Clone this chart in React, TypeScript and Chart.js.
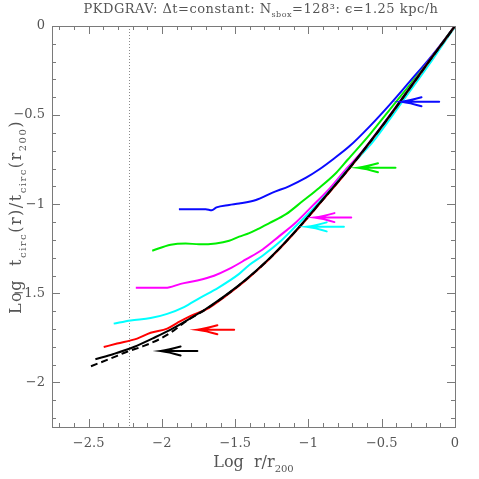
import React, { useEffect, useRef } from 'react';
import { Chart, registerables } from 'chart.js';

Chart.register(...registerables);

// ---------- axis ticks ----------
const xTickValues = [-2.5, -2, -1.5, -1, -0.5, 0];
const xTickLabels = ['−2.5', '−2', '−1.5', '−1', '−0.5', '0'];
const yTickValues = [-2, -1.5, -1, -0.5, 0];
const yTickLabels = ['−2', '−1.5', '−1', '−0.5', '0'];
const xRange = [-2.75, 0];
const yRange = [-2.25, 0];

// ---------- series (log r/r200, log tcirc ratio) ----------
const blueLogR = [-1.884, -1.701, -1.66, -1.628, -1.541, -1.473, -1.358, -1.245, -1.13, -1.016, -0.925, -0.834, -0.719, -0.582, -0.445, -0.308, -0.171, -0.057, 0.0];
const blueLogT = [-1.028, -1.028, -1.034, -1.018, -1.004, -0.996, -0.976, -0.935, -0.898, -0.851, -0.804, -0.749, -0.674, -0.563, -0.441, -0.311, -0.18, -0.062, 0.0];

const greenLogR = [-2.066, -1.94, -1.838, -1.747, -1.632, -1.541, -1.473, -1.404, -1.347, -1.267, -1.153, -1.039, -0.925, -0.81, -0.731, -0.582, -0.445, -0.308, -0.171, -0.034, 0.0];
const greenLogT = [-1.261, -1.227, -1.22, -1.225, -1.22, -1.205, -1.182, -1.162, -1.14, -1.106, -1.056, -0.982, -0.907, -0.823, -0.749, -0.609, -0.469, -0.33, -0.19, -0.036, 0.0];

const magentaLogR = [-2.178, -2.077, -1.975, -1.872, -1.758, -1.644, -1.541, -1.427, -1.313, -1.199, -1.084, -0.971, -0.856, -0.742, -0.651, -0.582, -0.445, -0.308, -0.171, -0.023, 0.0];
const magentaLogT = [-1.469, -1.469, -1.469, -1.447, -1.428, -1.401, -1.363, -1.31, -1.254, -1.179, -1.101, -1.008, -0.913, -0.802, -0.721, -0.65, -0.5, -0.344, -0.188, -0.025, 0.0];

const cyanLogR = [-2.329, -2.214, -2.077, -1.964, -1.849, -1.74, -1.616, -1.473, -1.404, -1.313, -1.199, -1.084, -0.971, -0.856, -0.742, -0.651, -0.562, -0.425, -0.288, -0.151, -0.014, 0.0];
const cyanLogT = [-1.67, -1.652, -1.639, -1.615, -1.577, -1.525, -1.469, -1.391, -1.341, -1.289, -1.214, -1.121, -1.028, -0.926, -0.814, -0.732, -0.652, -0.5, -0.343, -0.186, -0.022, -0.007];

const redLogR = [-2.397, -2.306, -2.169, -2.077, -1.964, -1.895, -1.803, -1.701, -1.564, -1.427, -1.29, -1.176, -1.062, -0.947, -0.81, -0.719, -0.582, -0.445, -0.308, -0.171, -0.023, 0.0];
const redLogT = [-1.801, -1.782, -1.754, -1.721, -1.698, -1.666, -1.626, -1.592, -1.514, -1.426, -1.326, -1.232, -1.13, -1.02, -0.888, -0.799, -0.655, -0.506, -0.35, -0.193, -0.027, 0.0];

const blackLogR = [-2.454, -2.329, -2.192, -2.043, -1.94, -1.849, -1.701, -1.564, -1.427, -1.29, -1.176, -1.062, -0.947, -0.81, -0.719, -0.582, -0.445, -0.308, -0.171, -0.023, 0.0];
const blackLogT = [-1.87, -1.84, -1.801, -1.745, -1.703, -1.661, -1.588, -1.51, -1.422, -1.322, -1.228, -1.126, -1.016, -0.884, -0.795, -0.652, -0.503, -0.347, -0.19, -0.025, 0.0];

const dashedLogR = [-2.484, -2.351, -2.238, -2.123, -2.009, -1.918, -1.849, -1.701, -1.564, -1.427, -1.29, -1.176, -1.062, -0.947, -0.81, -0.719, -0.582, -0.445, -0.308, -0.171, -0.023, 0.0];
const dashedLogT = [-1.909, -1.866, -1.828, -1.795, -1.754, -1.708, -1.664, -1.59, -1.512, -1.424, -1.324, -1.23, -1.128, -1.018, -0.886, -0.797, -0.654, -0.505, -0.349, -0.192, -0.027, 0.0];

// ---------- arrows (blue, green, magenta, cyan, red, black) ----------
const arrowTipLogR = [-0.365, -0.662, -0.959, -1.012, -1.758, -2.009];
const arrowTailLogR = [-0.108, -0.406, -0.708, -0.758, -1.507, -1.758];
const arrowLogT = [-0.425, -0.795, -1.075, -1.127, -1.704, -1.824];

// softening length marker
const softeningLogR = -2.226;

// ---------- styles ----------
const COLORS = {
  blue: '#0a0aff',
  green: '#00ee00',
  magenta: '#ff00ff',
  cyan: '#00ffff',
  red: '#ff0000',
  black: '#000000',
};
const arrowColors = [COLORS.blue, COLORS.green, COLORS.magenta, COLORS.cyan, COLORS.red, COLORS.black];
const FRAME = '#7a7a7a';
const TEXT = '#555555';
const FAMILY = '"DejaVu Serif", serif';

const pts = (xs: number[], ys: number[]) => xs.map((v, i) => ({ x: v, y: ys[i] }));

type Part = [string, 'n' | 'sub'];

function drawRich(ctx: CanvasRenderingContext2D, parts: Part[], cx: number, baseY: number, size: number, spacing = 0) {
  const subSize = Math.round(size * 0.62);
  const fontN = `${size}px ${FAMILY}`;
  const fontS = `${subSize}px ${FAMILY}`;
  (ctx as any).letterSpacing = `${spacing}px`;
  const widths = parts.map(([t, k]) => {
    ctx.font = k === 'sub' ? fontS : fontN;
    return ctx.measureText(t).width;
  });
  const total = widths.reduce((a, b) => a + b, 0);
  let xPos = cx - total / 2;
  ctx.textAlign = 'left';
  ctx.textBaseline = 'alphabetic';
  parts.forEach(([t, k], i) => {
    ctx.font = k === 'sub' ? fontS : fontN;
    ctx.fillText(t, xPos, baseY + (k === 'sub' ? size * 0.3 : 0));
    xPos += widths[i];
  });
  (ctx as any).letterSpacing = '0px';
}

const decorPlugin = {
  id: 'decor',
  beforeDatasetsDraw(chart: any) {
    const { ctx, chartArea, scales } = chart;
    const px = Math.round(scales.x.getPixelForValue(softeningLogR)) + 0.5;
    ctx.save();
    ctx.strokeStyle = '#8a8a8a';
    ctx.lineWidth = 1;
    ctx.setLineDash([1, 2]);
    ctx.beginPath();
    ctx.moveTo(px, chartArea.top);
    ctx.lineTo(px, chartArea.bottom);
    ctx.stroke();
    ctx.restore();
  },
  afterDatasetsDraw(chart: any) {
    const { ctx, chartArea, scales } = chart;
    const { left, right, top, bottom } = chartArea;
    const xs = scales.x;
    const ys = scales.y;

    // arrows
    ctx.save();
    ctx.lineWidth = 2;
    ctx.lineCap = 'round';
    arrowTipLogR.forEach((tip, i) => {
      const tx = xs.getPixelForValue(tip);
      const ex = xs.getPixelForValue(arrowTailLogR[i]);
      const yy = ys.getPixelForValue(arrowLogT[i]);
      ctx.strokeStyle = arrowColors[i];
      ctx.beginPath();
      ctx.moveTo(ex, yy);
      ctx.lineTo(tx, yy);
      ctx.moveTo(tx + 20, yy - 4.5);
      ctx.quadraticCurveTo(tx + 8, yy - 1, tx, yy);
      ctx.quadraticCurveTo(tx + 8, yy + 1, tx + 20, yy + 4.5);
      ctx.stroke();
    });
    ctx.restore();

    // frame
    ctx.save();
    ctx.strokeStyle = FRAME;
    ctx.lineWidth = 1;
    ctx.strokeRect(Math.round(left) + 0.5, Math.round(top) + 0.5, Math.round(right - left), Math.round(bottom - top));

    // inward ticks, minor every 0.1, major every 0.5
    ctx.beginPath();
    const kx0 = Math.ceil(xs.min / 0.1 - 1e-6);
    const kx1 = Math.floor(xs.max / 0.1 + 1e-6);
    for (let k = kx0; k <= kx1; k++) {
      const len = k % 5 === 0 ? 8 : 4;
      const p = Math.round(xs.getPixelForValue(k * 0.1)) + 0.5;
      ctx.moveTo(p, bottom);
      ctx.lineTo(p, bottom - len);
      ctx.moveTo(p, top);
      ctx.lineTo(p, top + len);
    }
    const ky0 = Math.ceil(ys.min / 0.1 - 1e-6);
    const ky1 = Math.floor(ys.max / 0.1 + 1e-6);
    for (let k = ky0; k <= ky1; k++) {
      const len = k % 5 === 0 ? 8 : 4;
      const p = Math.round(ys.getPixelForValue(k * 0.1)) + 0.5;
      ctx.moveTo(left, p);
      ctx.lineTo(left + len, p);
      ctx.moveTo(right, p);
      ctx.lineTo(right - len, p);
    }
    ctx.stroke();
    ctx.restore();

    // titles
    ctx.save();
    ctx.fillStyle = TEXT;
    drawRich(ctx, [
      ['PKDGRAV: Δt=constant: N', 'n'],
      ['sbox', 'sub'],
      ['=128³: ϵ=1.25 kpc/h', 'n'],
    ], 261, 13, 13, 0.5);
    drawRich(ctx, [
      ['Log  r/r', 'n'],
      ['200', 'sub'],
    ], (left + right) / 2, 467, 16);
    ctx.translate(21, 217);
    ctx.rotate(-Math.PI / 2);
    drawRich(ctx, [
      ['Log  t', 'n'],
      ['circ', 'sub'],
      ['(r)/t', 'n'],
      ['circ', 'sub'],
      ['(r', 'n'],
      ['200', 'sub'],
      [')', 'n'],
    ], 0, 0, 16, 1.5);
    ctx.restore();
  },
};

export default function App() {
  const canvasRef = useRef<HTMLCanvasElement | null>(null);

  useEffect(() => {
    document.body.style.margin = '0';
    const canvas = canvasRef.current;
    if (!canvas) return;
    const line = (data: any[], color: string, order: number, dash: number[] = []) => ({
      data,
      borderColor: color,
      backgroundColor: color,
      borderWidth: 2,
      borderDash: dash,
      pointRadius: 0,
      cubicInterpolationMode: 'monotone',
      fill: false,
      order,
    });
    const tickFont = { family: FAMILY, size: 13 };
    const chart = new Chart(canvas, {
      type: 'line',
      data: {
        datasets: [
          line(pts(blueLogR, blueLogT), COLORS.blue, 6),
          line(pts(greenLogR, greenLogT), COLORS.green, 5),
          line(pts(magentaLogR, magentaLogT), COLORS.magenta, 4),
          line(pts(cyanLogR, cyanLogT), COLORS.cyan, 3),
          line(pts(redLogR, redLogT), COLORS.red, 2),
          line(pts(blackLogR, blackLogT), COLORS.black, 1),
          line(pts(dashedLogR, dashedLogT), COLORS.black, 0, [7, 4]),
        ],
      },
      options: {
        responsive: false,
        animation: false,
        devicePixelRatio: 1,
        layout: { padding: { top: 26, right: 24, left: 0, bottom: 0 } },
        plugins: { legend: { display: false }, tooltip: { enabled: false }, title: { display: false } },
        scales: {
          x: {
            type: 'linear',
            min: xRange[0],
            max: xRange[1],
            grid: { display: false, drawTicks: false },
            border: { display: false },
            afterBuildTicks: (s: any) => { s.ticks = xTickValues.map((v) => ({ value: v })); },
            afterFit: (s: any) => { s.height = 52; },
            ticks: {
              font: tickFont,
              color: TEXT,
              padding: 9,
              maxRotation: 0,
              autoSkip: false,
              callback: (_v: any, i: number) => xTickLabels[i],
            },
          },
          y: {
            type: 'linear',
            min: yRange[0],
            max: yRange[1],
            grid: { display: false, drawTicks: false },
            border: { display: false },
            afterBuildTicks: (s: any) => { s.ticks = yTickValues.map((v) => ({ value: v })); },
            afterFit: (s: any) => { s.width = 52; },
            ticks: {
              font: tickFont,
              color: TEXT,
              padding: 7,
              autoSkip: false,
              callback: (_v: any, i: number) => yTickLabels[i],
            },
          },
        },
      } as any,
      plugins: [decorPlugin],
    });
    return () => chart.destroy();
  }, []);

  return (
    <div style={{ position: 'absolute', left: 0, top: 0, width: 479, height: 479, background: '#fff' }}>
      <canvas ref={canvasRef} width={479} height={479} style={{ display: 'block' }} />
    </div>
  );
}
